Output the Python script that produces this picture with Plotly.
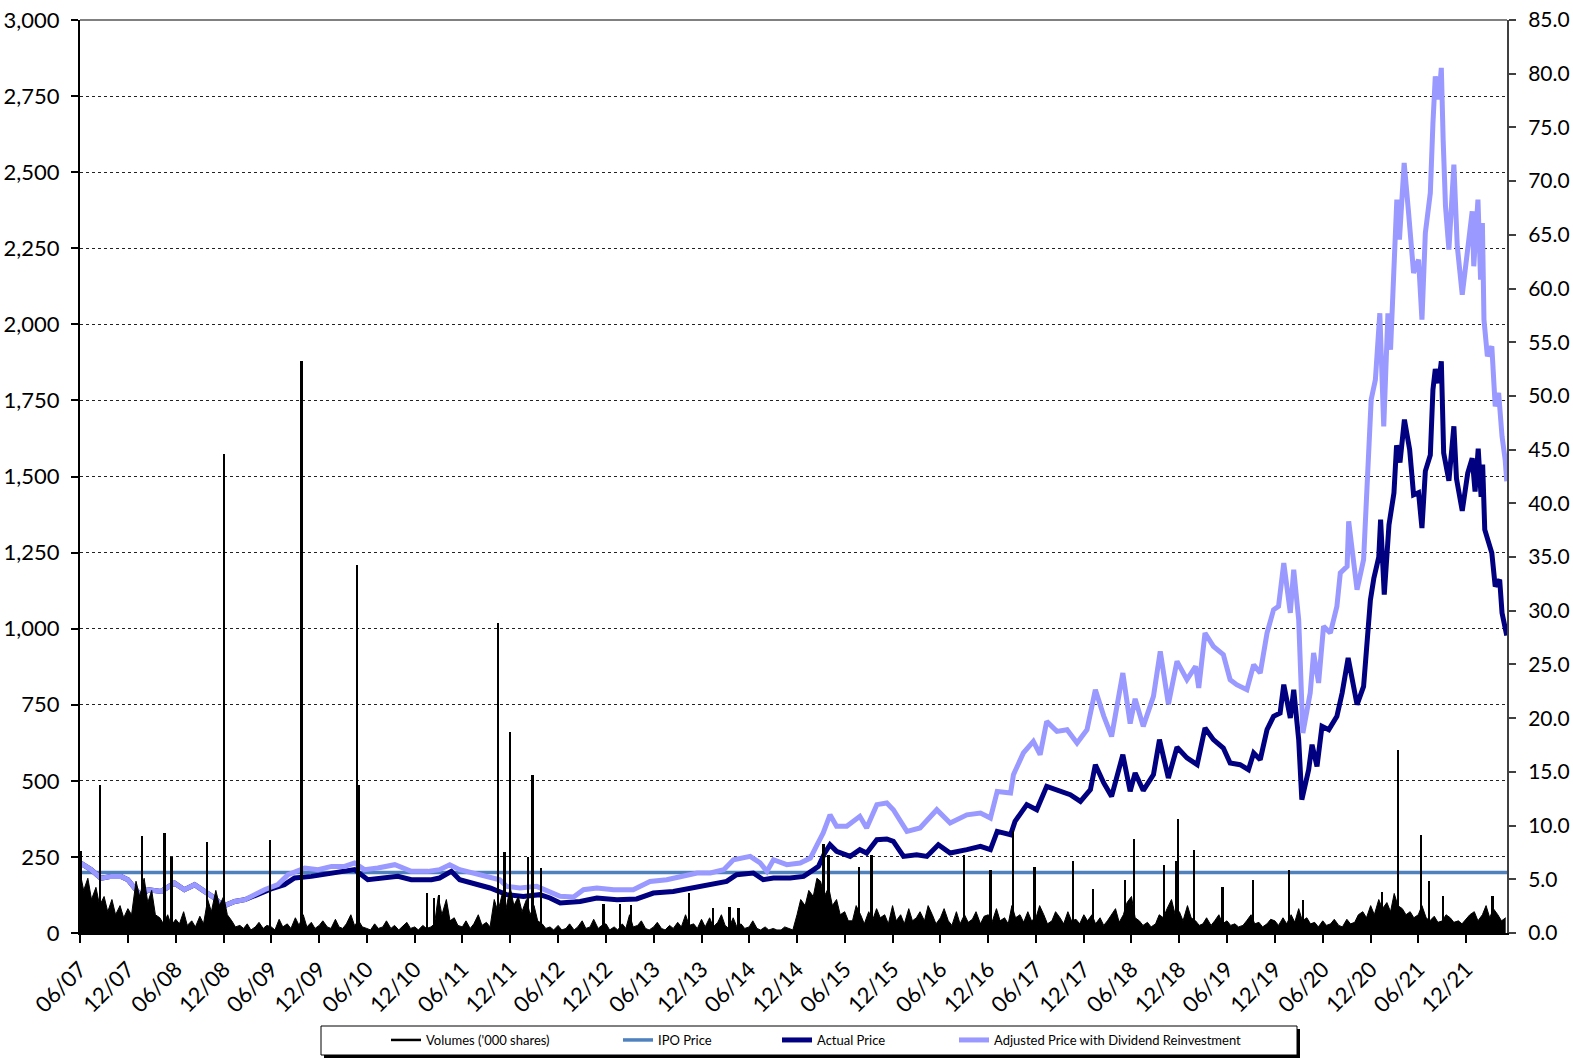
import plotly.graph_objects as go
import pandas as pd

# ---------------- data ----------------
IPO_PRICE = 5.64
X_START, X_END = "2007-06-01", "2022-05-06"

ADJUSTED = [
    ("2007-06-04", 6.5), ("2007-07-13", 5.9), ("2007-08-20", 5.1), ("2007-09-28", 5.27),
    ("2007-11-05", 5.27), ("2007-12-01", 4.96), ("2008-01-21", 3.41), ("2008-02-16", 4.03),
    ("2008-04-06", 3.87), ("2008-05-27", 4.65), ("2008-07-04", 4.03), ("2008-08-12", 4.5),
    ("2008-09-19", 3.87), ("2008-10-27", 3.26), ("2008-11-29", 2.48), ("2009-01-12", 2.94),
    ("2009-02-20", 3.1), ("2009-03-15", 3.41), ("2009-05-06", 4.03), ("2009-06-26", 4.5),
    ("2009-08-04", 5.43), ("2009-10-07", 6.05), ("2009-11-27", 5.9), ("2010-01-17", 6.2),
    ("2010-03-08", 6.2), ("2010-04-15", 6.52), ("2010-05-23", 5.9), ("2010-07-13", 6.05),
    ("2010-09-16", 6.36), ("2010-11-18", 5.74), ("2011-01-21", 5.74), ("2011-03-06", 5.9),
    ("2011-04-14", 6.36), ("2011-05-22", 5.9), ("2011-07-12", 5.59), ("2011-09-02", 5.27),
    ("2011-10-22", 4.96), ("2011-11-17", 4.34), ("2012-01-07", 4.19), ("2012-03-11", 4.34),
    ("2012-05-01", 3.87), ("2012-06-09", 3.41), ("2012-07-30", 3.35), ("2012-09-06", 4.03),
    ("2012-10-27", 4.19), ("2012-12-30", 4.03), ("2013-03-15", 4.03), ("2013-05-18", 4.8),
    ("2013-07-21", 4.96), ("2013-09-23", 5.27), ("2013-11-14", 5.59), ("2014-01-04", 5.59),
    ("2014-02-24", 5.9), ("2014-04-02", 6.82), ("2014-06-05", 7.13), ("2014-07-13", 6.52),
    ("2014-08-08", 5.74), ("2014-09-02", 6.82), ("2014-10-23", 6.36), ("2014-12-13", 6.52),
    ("2015-01-21", 6.98), ("2015-02-16", 8.22), ("2015-03-11", 9.31), ("2015-04-06", 11.0),
    ("2015-05-01", 9.93), ("2015-06-09", 9.93), ("2015-07-29", 10.86), ("2015-08-24", 9.78),
    ("2015-10-02", 11.95), ("2015-11-09", 12.1), ("2015-12-04", 11.48), ("2016-01-25", 9.46),
    ("2016-03-15", 9.78), ("2016-05-18", 11.48), ("2016-07-08", 10.24), ("2016-09-10", 11.0),
    ("2016-11-01", 11.17), ("2016-12-09", 10.7), ("2017-01-04", 13.18), ("2017-02-24", 13.04),
    ("2017-03-07", 14.74), ("2017-04-14", 16.76), ("2017-05-22", 17.84), ("2017-06-17", 16.6),
    ("2017-07-12", 19.7), ("2017-08-20", 18.77), ("2017-09-28", 18.93), ("2017-11-05", 17.69),
    ("2017-12-13", 18.93), ("2018-01-14", 22.65), ("2018-02-15", 20.2), ("2018-03-17", 18.3),
    ("2018-04-29", 24.2), ("2018-05-27", 19.5), ("2018-06-15", 21.8), ("2018-07-16", 19.24),
    ("2018-08-24", 22.03), ("2018-09-19", 26.22), ("2018-10-20", 21.3), ("2018-11-22", 25.29),
    ("2018-12-30", 23.58), ("2019-02-01", 24.82), ("2019-02-13", 22.81), ("2019-03-09", 27.93),
    ("2019-04-10", 26.69), ("2019-05-18", 25.91), ("2019-06-13", 23.58), ("2019-07-08", 23.12),
    ("2019-08-16", 22.65), ("2019-09-11", 24.98), ("2019-10-06", 24.2), ("2019-11-01", 27.93),
    ("2019-11-26", 30.1), ("2019-12-15", 30.41), ("2020-01-04", 34.45), ("2020-01-29", 29.8),
    ("2020-02-11", 33.83), ("2020-03-01", 29.17), ("2020-03-17", 18.62), ("2020-04-14", 22.35),
    ("2020-04-27", 26.07), ("2020-05-16", 23.28), ("2020-06-04", 28.55), ("2020-06-30", 27.93),
    ("2020-07-25", 30.41), ("2020-08-07", 33.52), ("2020-09-02", 34.14), ("2020-09-08", 38.32),
    ("2020-10-10", 31.96), ("2020-11-04", 34.76), ("2020-11-11", 38.5), ("2020-11-24", 46.55),
    ("2020-12-03", 49.66), ("2020-12-19", 51.5), ("2021-01-05", 57.7), ("2021-01-20", 47.17),
    ("2021-02-05", 57.7), ("2021-02-15", 54.3), ("2021-02-28", 61.45), ("2021-03-11", 68.28),
    ("2021-03-21", 64.55), ("2021-04-08", 71.7), ("2021-04-25", 67.04), ("2021-05-14", 61.45),
    ("2021-06-02", 62.69), ("2021-06-15", 57.1), ("2021-06-28", 65.18), ("2021-07-17", 68.9),
    ("2021-07-27", 75.4), ("2021-08-05", 79.76), ("2021-08-18", 77.6), ("2021-08-28", 80.54),
    ("2021-09-04", 73.86), ("2021-09-13", 67.66), ("2021-09-26", 63.62), ("2021-10-15", 71.54),
    ("2021-10-28", 63.93), ("2021-11-16", 59.43), ("2021-11-29", 62.07), ("2021-12-11", 64.86),
    ("2021-12-24", 67.19), ("2021-12-30", 62.07), ("2022-01-15", 68.28), ("2022-01-25", 60.83),
    ("2022-02-01", 66.1), ("2022-02-07", 57.1), ("2022-02-20", 53.69), ("2022-03-09", 54.62),
    ("2022-03-22", 49.03), ("2022-04-04", 50.28), ("2022-04-17", 46.24), ("2022-04-29", 44.07),
    ("2022-05-05", 42.05),
]

ACTUAL = [
    ("2007-06-04", 6.5), ("2007-07-13", 5.9), ("2007-08-20", 5.1), ("2007-09-28", 5.27),
    ("2007-11-05", 5.27), ("2007-12-01", 4.96), ("2008-01-21", 3.41), ("2008-02-16", 4.03),
    ("2008-04-06", 3.87), ("2008-05-27", 4.65), ("2008-07-04", 4.03), ("2008-08-12", 4.5),
    ("2008-09-19", 3.87), ("2008-10-27", 3.26), ("2008-11-29", 2.48), ("2009-01-12", 2.94),
    ("2009-02-20", 3.1), ("2009-03-15", 3.35), ("2009-05-06", 3.95), ("2009-05-31", 4.1),
    ("2009-07-21", 4.5), ("2009-08-29", 5.12), ("2009-11-01", 5.27), ("2010-01-17", 5.59),
    ("2010-04-15", 5.9), ("2010-06-05", 4.96), ("2010-08-08", 5.12), ("2010-09-28", 5.27),
    ("2010-11-18", 4.96), ("2011-02-03", 4.96), ("2011-03-06", 5.12), ("2011-04-20", 5.74),
    ("2011-05-22", 4.96), ("2011-07-12", 4.66), ("2011-09-15", 4.19), ("2011-11-17", 3.57),
    ("2012-01-20", 3.41), ("2012-03-23", 3.57), ("2012-05-01", 3.26), ("2012-06-09", 2.79),
    ("2012-08-24", 2.94), ("2012-10-27", 3.26), ("2013-01-12", 3.1), ("2013-03-28", 3.17),
    ("2013-05-31", 3.72), ("2013-08-15", 3.87), ("2013-10-31", 4.19), ("2014-01-16", 4.5),
    ("2014-03-07", 4.8), ("2014-04-14", 5.43), ("2014-06-17", 5.59), ("2014-07-25", 4.96),
    ("2014-09-02", 5.12), ("2014-11-05", 5.12), ("2014-12-26", 5.27), ("2015-02-03", 5.9),
    ("2015-02-21", 6.2), ("2015-03-17", 7.45), ("2015-04-06", 8.22), ("2015-05-01", 7.6),
    ("2015-06-22", 7.13), ("2015-07-29", 7.76), ("2015-08-24", 7.45), ("2015-10-02", 8.69),
    ("2015-11-09", 8.75), ("2015-12-04", 8.53), ("2016-01-12", 7.13), ("2016-03-02", 7.29),
    ("2016-04-10", 7.13), ("2016-05-24", 8.22), ("2016-07-08", 7.45), ("2016-09-10", 7.76),
    ("2016-11-01", 8.06), ("2016-12-09", 7.76), ("2017-01-04", 9.46), ("2017-02-24", 9.15),
    ("2017-03-13", 10.39), ("2017-04-27", 11.95), ("2017-06-04", 11.48), ("2017-07-12", 13.65),
    ("2017-09-02", 13.18), ("2017-10-10", 12.88), ("2017-11-18", 12.25), ("2017-12-26", 13.34),
    ("2018-01-14", 15.67), ("2018-02-15", 13.97), ("2018-03-17", 12.72), ("2018-04-29", 16.6),
    ("2018-05-27", 13.2), ("2018-06-15", 14.9), ("2018-07-16", 13.26), ("2018-08-24", 14.74),
    ("2018-09-16", 18.0), ("2018-10-20", 14.43), ("2018-11-22", 17.3), ("2018-12-30", 16.3),
    ("2019-02-07", 15.67), ("2019-03-09", 19.09), ("2019-04-10", 18.0), ("2019-05-18", 17.22),
    ("2019-06-13", 15.83), ("2019-07-21", 15.67), ("2019-08-22", 15.2), ("2019-09-11", 16.76),
    ("2019-10-06", 16.14), ("2019-11-01", 18.93), ("2019-11-26", 20.17), ("2019-12-21", 20.48),
    ("2020-01-04", 23.12), ("2020-01-29", 20.02), ("2020-02-11", 22.65), ("2020-03-01", 18.0),
    ("2020-03-13", 12.41), ("2020-04-08", 15.2), ("2020-04-21", 17.53), ("2020-05-10", 15.51),
    ("2020-05-29", 19.24), ("2020-06-24", 18.93), ("2020-07-25", 20.17), ("2020-08-14", 22.35),
    ("2020-09-06", 25.6), ("2020-10-10", 21.26), ("2020-11-04", 22.96), ("2020-11-18", 27.3),
    ("2020-11-30", 31.0), ("2020-12-13", 33.0), ("2021-01-01", 35.0), ("2021-01-08", 38.48),
    ("2021-01-22", 31.5), ("2021-02-09", 38.0), ("2021-02-28", 40.97), ("2021-03-10", 45.4),
    ("2021-03-23", 43.8), ("2021-04-09", 47.8), ("2021-04-29", 45.0), ("2021-05-14", 40.8),
    ("2021-06-02", 41.0), ("2021-06-15", 37.7), ("2021-06-28", 43.0), ("2021-07-17", 44.5),
    ("2021-07-27", 50.59), ("2021-08-05", 52.5), ("2021-08-18", 51.2), ("2021-08-28", 53.22),
    ("2021-09-06", 44.69), ("2021-09-26", 42.1), ("2021-10-15", 47.17), ("2021-10-25", 42.3),
    ("2021-11-16", 39.3), ("2021-12-07", 42.83), ("2021-12-24", 44.2), ("2022-01-04", 41.1),
    ("2022-01-16", 45.1), ("2022-01-27", 40.6), ("2022-02-02", 43.6), ("2022-02-10", 37.55),
    ("2022-02-26", 36.31), ("2022-03-09", 35.38), ("2022-03-22", 32.27), ("2022-04-08", 32.9),
    ("2022-04-17", 29.8), ("2022-05-05", 27.7),
]

# semi-monthly background volumes ('000 shares), 1st and 15th of each month
VOL_2007 = [200, 140, 180, 110, 150, 90, 120, 70, 110, 60, 90, 50, 80, 60]
VOL_2008 = [170, 120, 180, 100, 140, 60, 50, 30, 60, 25, 45, 30, 70, 25, 40, 20, 55, 30, 110, 70, 140, 90, 120, 60]
VOL_2009 = [40, 20, 25, 15, 30, 10, 20, 35, 15, 25, 20, 10, 45, 20, 30, 15, 50, 25, 60, 20, 35, 15, 25, 40]
VOL_2010 = [20, 15, 45, 20, 15, 30, 60, 25, 40, 20, 15, 10, 30, 15, 20, 40, 15, 25, 10, 20, 35, 15, 20, 10]
VOL_2011 = [25, 15, 20, 30, 120, 60, 110, 40, 50, 25, 20, 40, 15, 30, 60, 25, 35, 20, 110, 70, 130, 80, 150, 90]
VOL_2012 = [120, 70, 110, 60, 90, 40, 30, 15, 20, 10, 25, 10, 15, 30, 10, 20, 40, 15, 20, 45, 15, 25, 30, 10]
VOL_2013 = [20, 10, 30, 15, 60, 20, 25, 40, 15, 10, 20, 35, 15, 10, 25, 15, 35, 20, 60, 25, 30, 15, 45, 20]
VOL_2014 = [50, 20, 35, 60, 25, 15, 50, 20, 30, 15, 20, 40, 15, 10, 20, 10, 15, 10, 10, 20, 15, 10, 60, 110]
VOL_2015 = [90, 140, 120, 180, 170, 120, 150, 90, 110, 60, 70, 40, 40, 90, 60, 30, 70, 40, 80, 50, 60, 30, 90, 40]
VOL_2016 = [60, 30, 80, 40, 50, 70, 40, 90, 60, 30, 50, 80, 40, 25, 70, 30, 60, 35, 45, 70, 30, 55, 60, 35]
VOL_2017 = [80, 40, 50, 30, 90, 50, 60, 35, 70, 40, 50, 90, 60, 30, 40, 70, 50, 30, 70, 40, 45, 30, 60, 40]
VOL_2018 = [60, 30, 50, 25, 40, 60, 80, 35, 60, 100, 120, 50, 40, 25, 35, 20, 30, 60, 50, 80, 110, 60, 70, 40]
VOL_2019 = [90, 50, 40, 25, 30, 50, 25, 40, 60, 30, 40, 25, 30, 20, 25, 40, 60, 30, 35, 20, 30, 45, 40, 25]
VOL_2020 = [50, 30, 60, 35, 80, 40, 50, 30, 35, 20, 40, 25, 30, 45, 25, 20, 45, 30, 35, 60, 70, 50, 90, 60]
VOL_2021 = [110, 80, 100, 70, 130, 90, 80, 60, 70, 50, 60, 90, 50, 40, 55, 35, 40, 60, 50, 35, 40, 30, 45, 60]
VOL_2022 = [70, 40, 60, 90, 50, 80, 60, 40, 50]

# high-volume trading days ('000 shares)
SPIKES = [
    ("2007-06-05", 270), ("2007-08-18", 485), ("2008-01-25", 320), ("2008-04-20", 330),
    ("2008-05-16", 250), ("2008-09-28", 300), ("2008-12-04", 1575), ("2009-05-28", 305),
    ("2009-09-25", 1880), ("2010-04-25", 1210), ("2010-05-02", 485), ("2011-01-18", 130),
    ("2011-02-13", 115), ("2011-03-06", 125), ("2011-10-16", 1020), ("2011-11-10", 265),
    ("2011-12-01", 660), ("2012-02-07", 250), ("2012-02-25", 520), ("2012-03-28", 215),
    ("2012-11-22", 96), ("2013-01-25", 96), ("2013-03-07", 93), ("2013-10-16", 130),
    ("2014-01-16", 81), ("2014-03-19", 86), ("2014-04-22", 83), ("2015-03-13", 293),
    ("2015-04-01", 255), ("2015-07-28", 217), ("2015-09-13", 255), ("2016-09-01", 255),
    ("2016-12-10", 206), ("2017-03-07", 335), ("2017-05-28", 217), ("2017-10-21", 237),
    ("2018-01-07", 143), ("2018-05-07", 173), ("2018-06-12", 310), ("2018-10-04", 222),
    ("2018-11-19", 238), ("2018-11-28", 376), ("2019-01-28", 274), ("2019-05-16", 151),
    ("2019-09-09", 173), ("2020-01-25", 208), ("2020-03-18", 107), ("2021-01-13", 134),
    ("2021-03-16", 602), ("2021-06-13", 323), ("2021-07-13", 170), ("2021-09-04", 120),
    ("2022-03-13", 120),
]

SERIES_NAMES = ["Volumes ('000 shares)", "IPO Price", "Actual Price",
                "Adjusted Price with Dividend Reinvestment"]

# ---------------- assemble ----------------
VOL_BASE = (VOL_2007 + VOL_2008 + VOL_2009 + VOL_2010 + VOL_2011 + VOL_2012 + VOL_2013 +
            VOL_2014 + VOL_2015 + VOL_2016 + VOL_2017 + VOL_2018 + VOL_2019 + VOL_2020 +
            VOL_2021 + VOL_2022)
VOL_DATES = pd.date_range("2007-06-01", periods=len(VOL_BASE), freq="SMS")

adj_x, adj_y = zip(*ADJUSTED)
act_x, act_y = zip(*ACTUAL)
sp_x, sp_y = zip(*SPIKES)

W, H = 1573, 1058
L, R, T, B = 80, 1507, 20, 933


def px_x(px):
    return (px - L) / (R - L)


def px_y(py):
    return (B - py) / (B - T)


FONT = "Century Gothic, Lato, sans-serif"
NAVY, LILAC, STEEL = "#000080", "#9999FF", "#4F81BD"

fig = go.Figure()

# price series on the primary (right-hand) axis
fig.add_trace(go.Scatter(x=[X_START, X_END], y=[IPO_PRICE, IPO_PRICE], mode="lines",
                         line=dict(color=STEEL, width=3.5), name=SERIES_NAMES[1],
                         legend="legend2", yaxis="y"))
fig.add_trace(go.Scatter(x=act_x, y=act_y, mode="lines", line=dict(color=NAVY, width=5),
                         name=SERIES_NAMES[2], legend="legend3", yaxis="y"))
fig.add_trace(go.Scatter(x=adj_x, y=adj_y, mode="lines", line=dict(color=LILAC, width=5),
                         name=SERIES_NAMES[3], legend="legend4", yaxis="y"))

# volumes on the overlaying (left-hand) axis, drawn on top
fig.add_trace(go.Scatter(x=VOL_DATES, y=VOL_BASE, mode="lines", line=dict(color="black", width=1),
                         fill="tozeroy", fillcolor="black", showlegend=False, yaxis="y2",
                         hoverinfo="skip"))
fig.add_trace(go.Bar(x=sp_x, y=sp_y, width=[7 * 86400000] * len(sp_x),
                     marker=dict(color="black", line=dict(width=0)), showlegend=False,
                     yaxis="y2"))
# legend entry for volumes (line symbol as in the original)
fig.add_trace(go.Scatter(x=[None], y=[None], mode="lines", line=dict(color="black", width=2.5),
                         name=SERIES_NAMES[0], legend="legend", yaxis="y2"))

tickfont = dict(family=FONT, size=22, color="black")
rtickfont = dict(family=FONT, size=21, color="black")
# legends placed in container coordinates (no margin push)
leg_common = dict(orientation="h", xanchor="left", yanchor="middle",
                  xref="container", yref="container", y=1 - 1040 / H,
                  bgcolor="rgba(0,0,0,0)", borderwidth=0,
                  font=dict(family=FONT, size=13, color="black"))

fig.update_layout(
    width=W, height=H, autosize=False,
    margin=dict(l=L, r=W - R, t=T, b=H - B, pad=0),
    paper_bgcolor="white", plot_bgcolor="white",
    showlegend=True,
    bargap=0,
    xaxis=dict(type="date", range=[X_START, X_END], tick0="2007-06-01", dtick="M6",
               tickformat="%m/%y", tickangle=-45, ticks="outside", ticklen=8,
               tickcolor="black", tickwidth=1.5, showline=True, linecolor="black",
               linewidth=1.5, showgrid=False, zeroline=False, tickfont=tickfont,
               ticklabelstandoff=5, automargin=False),
    yaxis=dict(side="right", range=[0, 85], dtick=5, tick0=0, tickformat=".1f",
               showgrid=False, zeroline=False, showline=True, linecolor="#404040",
               linewidth=2, ticks="outside", ticklen=7, tickcolor="#404040", tickwidth=1.5,
               tickfont=rtickfont, ticklabelstandoff=8, automargin=False),
    yaxis2=dict(overlaying="y", side="left", range=[0, 3000], dtick=250, tick0=0,
                tickformat=",d", showgrid=True, griddash="dot", gridcolor="#222222",
                gridwidth=1, zeroline=False, showline=True, linecolor="black", linewidth=2,
                ticks="outside", ticklen=7, tickcolor="black", tickwidth=1.5,
                tickfont=tickfont, ticklabelstandoff=7, automargin=False),
    legend=dict(x=386 / W, **leg_common),
    legend2=dict(x=618 / W, **leg_common),
    legend3=dict(x=777 / W, **leg_common),
    legend4=dict(x=954 / W, **leg_common),
    shapes=[
        # top frame line
        dict(type="line", xref="paper", yref="paper", x0=0, x1=1, y0=1, y1=1,
             line=dict(color="#808080", width=2), layer="above"),
        # legend box shadow and box
        dict(type="rect", xref="paper", yref="paper", x0=px_x(324), x1=px_x(1300),
             y0=px_y(1029), y1=px_y(1058), fillcolor="black", line=dict(width=0)),
        dict(type="rect", xref="paper", yref="paper", x0=px_x(321), x1=px_x(1297),
             y0=px_y(1026), y1=px_y(1055), fillcolor="white",
             line=dict(color="black", width=1)),
    ],
)

# the page has no body margin and no scrollbars, so the figure fills the window exactly
fig.write_html("out.html", config={"displayModeBar": False},
               post_script="document.body.style.margin='0';"
                           "document.body.style.overflow='hidden';")
